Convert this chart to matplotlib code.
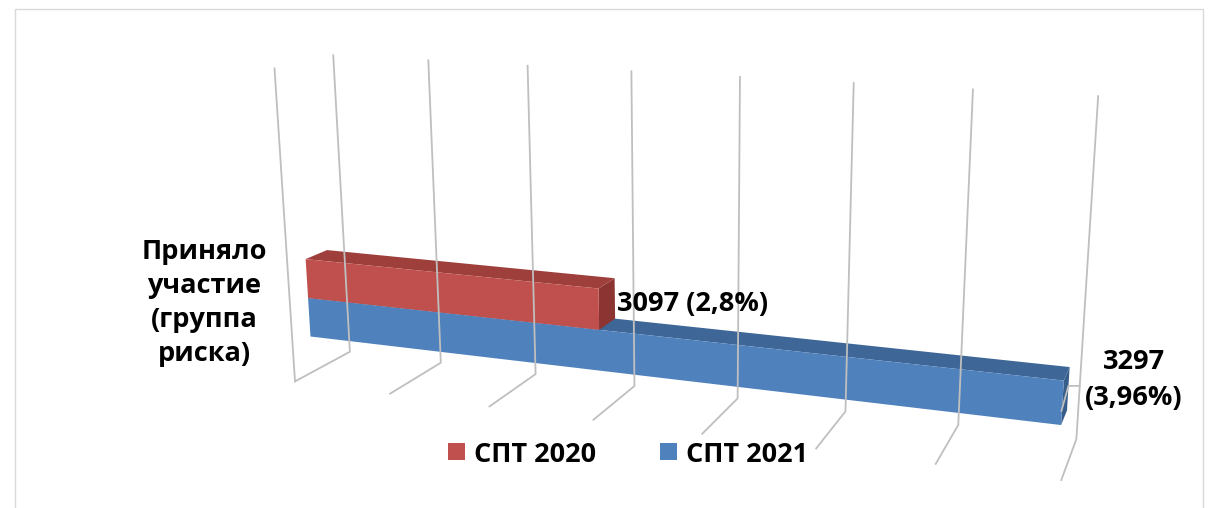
import numpy as np
import matplotlib
matplotlib.use('Agg')
import matplotlib.pyplot as plt
from matplotlib.patches import Polygon, Rectangle

plt.rcParams['font.family'] = ['Open Sans', 'DejaVu Sans']

# data
category = 'Приняло\nучастие\n(группа\nриска)'
series = ['СПТ 2020', 'СПТ 2021']
values = [3097, 3297]
shares = ['2,8%', '3,96%']
colors = ['#C0504D', '#4F81BD']
top_colors = ['#9E3F3C', '#3E6798']
end_colors = ['#8C3431', '#375D8A']

axis_min, axis_max, axis_step = 2950, 3300, 50

# 3d view: camera matrix (value index, depth, height) -> pixels
P = np.array([[82.02829, -71.03493, -32.06817, 349.89073],
              [3.61596, 8.77566, -298.95526, 351.74429],
              [-0.02021, -0.05474, -0.04624, 1.0]])
y_back, y_front = 0.31, 0.69          # bar depth inside the floor
z_levels = [0.12, 0.249, 0.378]      # bottom of 2021, 2020/2021 border, top of 2020


def proj(v, y, z):
    u = (v - axis_min) / axis_step
    h = P @ np.array([u, y, z, 1.0])
    return h[0] / h[2], h[1] / h[2]


fig = plt.figure(figsize=(12.16, 5.08), dpi=100)
ax = fig.add_axes([0, 0, 1, 1])
ax.set_xlim(0, 1216)
ax.set_ylim(508, 0)
ax.axis('off')

# chart border
ax.add_patch(Rectangle((14.5, 8.5), 1188.5, 520, fill=False, ec='#D9D9D9', lw=1))

# gridlines: back wall + floor
grid = '#BFBFBF'
n_lines = int(round((axis_max - axis_min) / axis_step)) + 1
for k in range(n_lines):
    v = axis_min + k * axis_step
    pts = [proj(v, 0, 1), proj(v, 0, 0), proj(v, 1, 0)]
    ax.plot([p[0] for p in pts], [p[1] for p in pts], color=grid, lw=1.3)
pts = [proj(axis_min, 1, 0), proj(axis_min, 1, 1)]
ax.plot([p[0] for p in pts], [p[1] for p in pts], color=grid, lw=1.3)

# bars (2021 below, 2020 on top)
for i in [1, 0]:
    v = values[i]
    z0, z1 = (z_levels[1], z_levels[2]) if i == 0 else (z_levels[0], z_levels[1])
    end = [proj(v, y_back, z0), proj(v, y_front, z0), proj(v, y_front, z1), proj(v, y_back, z1)]
    top = [proj(axis_min, y_back, z1), proj(v, y_back, z1), proj(v, y_front, z1), proj(axis_min, y_front, z1)]
    front = [proj(axis_min, y_front, z0), proj(v, y_front, z0), proj(v, y_front, z1), proj(axis_min, y_front, z1)]
    ax.add_patch(Polygon(end, closed=True, fc=end_colors[i], ec='none'))
    ax.add_patch(Polygon(top, closed=True, fc=top_colors[i], ec='none'))
    ax.add_patch(Polygon(front, closed=True, fc=colors[i], ec='none'))

# data labels
x0, y0 = proj(values[0], y_front, z_levels[2])
ax.text(x0 + 18, y0 + 22, '%d (%s)' % (values[0], shares[0]),
        fontsize=19.5, fontweight='bold', ha='left', va='baseline')

x1, y1 = proj(values[1], y_front, z_levels[0])
lx, ly = proj(values[1], y_front, (z_levels[0] + z_levels[1]) / 2)
ax.plot([lx - 1, lx + 6, lx + 17], [ly + 8, ly - 17, ly - 17], color='#BFBFBF', lw=1.3)
ax.text(x1 + 73, y1 - 56, str(values[1]), fontsize=19.5, fontweight='bold', ha='center', va='baseline')
ax.text(x1 + 73, y1 - 20, '(%s)' % shares[1], fontsize=19.5, fontweight='bold', ha='center', va='baseline')

# category label
for j, line in enumerate(category.split('\n')):
    ax.text(204, 259 + 34 * j, line, fontsize=19.5, fontweight='bold', ha='center', va='baseline')

# legend
legend_x = [448, 660]
for i, name in enumerate(series):
    ax.add_patch(Rectangle((legend_x[i], 443), 17, 17, fc=colors[i], ec='none'))
    ax.text(legend_x[i] + 26, 462, name, fontsize=19.5, fontweight='bold', ha='left', va='baseline')

fig.savefig('out.png', dpi=100)
